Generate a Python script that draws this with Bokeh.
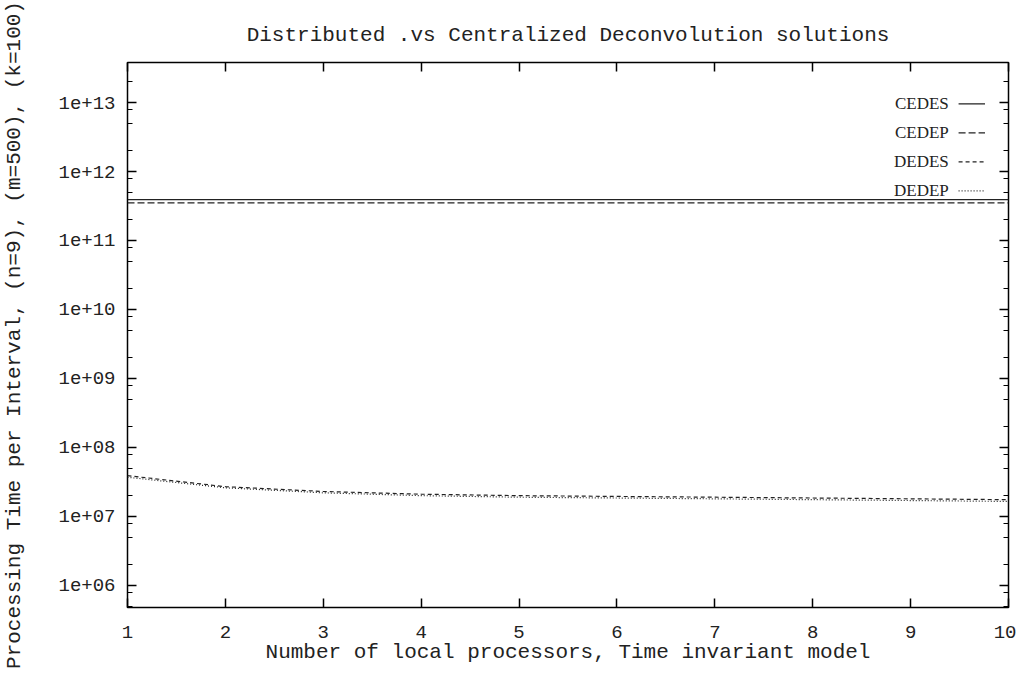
import numpy as np
from bokeh.plotting import figure
from bokeh.models import Range1d, LinearAxis, LogAxis, FixedTicker, Label
from bokeh.embed import file_html
from bokeh.resources import INLINE

# ---- data ----
processors = [1, 2, 3, 4, 5, 6, 7, 8, 9, 10]
cedes = [3.9e11, 3.9e11, 3.9e11, 3.9e11, 3.9e11, 3.9e11, 3.9e11, 3.9e11, 3.9e11, 3.9e11]
cedep = [3.5e11, 3.5e11, 3.5e11, 3.5e11, 3.5e11, 3.5e11, 3.5e11, 3.5e11, 3.5e11, 3.5e11]
dedes = [3.9e7, 2.7e7, 2.3e7, 2.1e7, 2.0e7, 1.95e7, 1.9e7, 1.85e7, 1.8e7, 1.75e7]
dedep = [3.7e7, 2.6e7, 2.2e7, 2.0e7, 1.9e7, 1.85e7, 1.8e7, 1.75e7, 1.7e7, 1.65e7]
series_names = ["CEDES", "CEDEP", "DEDES", "DEDEP"]
y_ticks = [1e6, 1e7, 1e8, 1e9, 1e10, 1e11, 1e12, 1e13]
y_tick_labels = ["1e+06", "1e+07", "1e+08", "1e+09", "1e+10", "1e+11", "1e+12", "1e+13"]

FONT = "Liberation Mono"
INK = "#222222"

p = figure(width=1016, height=672, y_axis_type="log",
           x_range=Range1d(1, 10), y_range=Range1d(10**5.68, 10**13.58),
           output_backend="svg", toolbar_location=None,
           min_border_left=127, min_border_right=8,
           min_border_top=62, min_border_bottom=65)

p.background_fill_color = "white"
p.border_fill_color = "white"
p.outline_line_color = "black"
p.outline_line_width = 1.5
p.grid.visible = False

p.title.text = "Distributed .vs Centralized Deconvolution solutions"
p.title.align = "center"
p.title.text_font = FONT
p.title.text_font_size = "21px"
p.title.text_font_style = "normal"
p.title.text_color = INK
p.title.standoff = 32

minor = []
for k in range(5, 14):
    for m in (2, 5, 8):
        minor.append(m * 10.0**k)
yt = FixedTicker(ticks=y_ticks, minor_ticks=minor)
xt = FixedTicker(ticks=processors)

def style(ax, labels=True):
    ax.axis_line_color = None
    ax.major_tick_in = 9
    ax.major_tick_out = 0
    ax.minor_tick_in = 5
    ax.minor_tick_out = 0
    ax.major_tick_line_color = "black"
    ax.minor_tick_line_color = "black"
    ax.major_tick_line_width = 1.5
    ax.minor_tick_line_width = 1.2
    ax.major_label_text_font = FONT
    ax.major_label_text_font_size = "19px" if labels else "1px"
    ax.major_label_text_color = INK
    if not labels:
        ax.major_label_text_alpha = 0
        ax.major_label_standoff = 0
    ax.axis_label_text_font = FONT
    ax.axis_label_text_font_size = "21px"
    ax.axis_label_text_font_style = "normal"
    ax.axis_label_text_color = INK

xa = p.xaxis[0]
xa.ticker = xt
style(xa)
xa.major_label_standoff = 18
xa.axis_label = "Number of local processors, Time invariant model"
xa.axis_label_standoff = 0

ya = p.yaxis[0]
ya.ticker = yt
ya.major_label_overrides = {float(t): s for t, s in zip(y_ticks, y_tick_labels)}
style(ya)
ya.major_label_standoff = 12
ya.axis_label = "Processing Time per Interval, (n=9), (m=500), (k=100)"
ya.axis_label_standoff = 29

top = LinearAxis(ticker=xt)
style(top, labels=False)
p.add_layout(top, "above")
right = LogAxis(ticker=yt)
style(right, labels=False)
p.add_layout(right, "right")

dashes = ["solid", "7 3", "4 3", "1 2"]
data = [cedes, cedep, dedes, dedep]
for name, vals, dash in zip(series_names, data, dashes):
    p.line(processors, vals, line_color=INK, line_width=1.2, line_dash=dash)

# legend (text left of the line sample, top right)
legend_levels = [12.98, 12.56, 12.14, 11.72]
for name, dash, ly in zip(series_names, dashes, legend_levels):
    yv = 10**ly
    p.segment(x0=[9.49], y0=[yv], x1=[9.76], y1=[yv], line_color=INK, line_width=1.2, line_dash=dash)
    p.add_layout(Label(x=9.39, y=yv, text=name, text_align="right", text_baseline="middle",
                       text_font="Liberation Serif", text_font_size="17px", text_color=INK))

open("out.html", "w").write(file_html(p, INLINE))
